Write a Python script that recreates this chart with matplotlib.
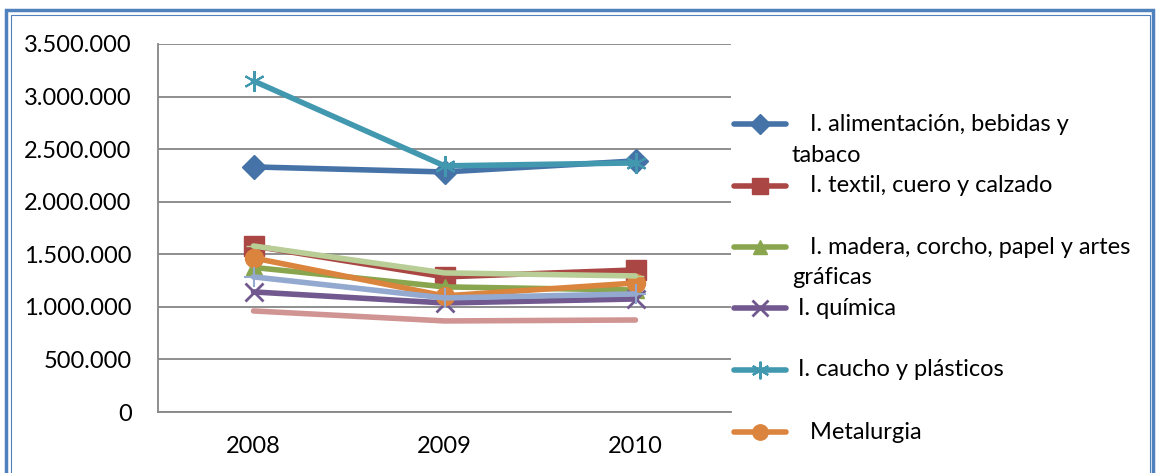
import matplotlib.pyplot as plt
from matplotlib.lines import Line2D
from matplotlib.patches import Rectangle
import numpy as np

# datos
anios = ['2008', '2009', '2010']
alimentacion = [2331000, 2283000, 2388000]
textil = [1579000, 1285000, 1351000]
madera = [1375000, 1190000, 1160000]
quimica = [1142000, 1037000, 1075000]
caucho = [3149000, 2341000, 2369000]
metalurgia = [1465000, 1104000, 1227000]
serie7 = [1285000, 1085000, 1123000]
serie8 = [1579000, 1323000, 1294000]
serie9 = [961000, 866000, 875000]

etiquetas = ['   I. alimentación, bebidas y\ntabaco',
             '   I. textil, cuero y calzado',
             '   I. madera, corcho, papel y artes\ngráficas',
             ' I. química',
             ' I. caucho y plásticos',
             '   Metalurgia']

plt.rcParams['font.family'] = ['Lato', 'DejaVu Sans']

W, H = 1156, 473
fig = plt.figure(figsize=(W / 100, H / 100), dpi=100)
ax = fig.add_axes([158 / W, 1 - 412 / H, (731 - 158) / W, (412 - 44) / H])

x = np.arange(len(anios))
# (valores, color, marcador, tamaño, ancho borde marcador)
series = [
    (alimentacion, '#4572A7', 'D', 12, 1),
    (textil, '#AA4643', 's', 14, 1),
    (madera, '#89A54E', '^', 12, 1),
    (quimica, '#71588F', 'x', 13, 2),
    (caucho, '#4198AF', (6, 2, 0), 15, 1.5),
    (metalurgia, '#DB843D', 'o', 13, 1),
    (serie7, '#93A9CF', '+', 14, 1.5),
    (serie8, '#B9CD96', '_', 12, 1),
    (serie9, '#D09493', 'None', 0, 0),
]
for vals, col, mk, ms, mew in series:
    ax.plot(x, vals, color=col, lw=4, marker=mk, markersize=ms,
            markeredgewidth=mew, markeredgecolor=col, markerfacecolor=col,
            solid_capstyle='round', solid_joinstyle='round', clip_on=False)

ax.set_xlim(-0.5, 2.5)
ax.set_ylim(0, 3500000)
ax.set_yticks(np.arange(0, 3500001, 500000))
ax.set_yticklabels([f'{int(v):,}'.replace(',', '.') for v in ax.get_yticks()])
ax.set_xticks(x)
ax.set_xticklabels(anios)
ax.tick_params(axis='y', length=0, pad=19, labelsize=17)
ax.tick_params(axis='x', length=0, pad=17, labelsize=17)
ax.grid(axis='y', color='#868686', lw=1.3)
ax.set_axisbelow(True)
for s in ['top', 'right']:
    ax.spines[s].set_visible(False)
for s in ['left', 'bottom']:
    ax.spines[s].set_color('#868686')
    ax.spines[s].set_linewidth(1.3)

# leyenda manual (solo las 6 primeras series se ven)
ys = [124, 186, 247, 308, 370, 432]
for (vals, col, mk, ms, mew), lab, yy in zip(series[:6], etiquetas, ys):
    fy = 1 - yy / H
    fig.add_artist(Line2D([734 / W, 786 / W], [fy, fy], color=col, lw=4,
                          solid_capstyle='round', transform=fig.transFigure))
    fig.add_artist(Line2D([760 / W], [fy], marker=mk, markersize=ms * 0.85,
                          color=col, markeredgewidth=mew, transform=fig.transFigure))
    lineas = lab.split('\n')
    for i, t in enumerate(lineas):
        fig.text(792 / W, 1 - (yy + 31 * i) / H, t, fontsize=17,
                 va='center', ha='left')

# borde doble azul
fig.add_artist(Rectangle((6 / W, -0.1), (1153 - 6) / W, 1.1 - 10.5 / H,
                         fill=False, ec='#4F81BD', lw=2.5, transform=fig.transFigure))
fig.add_artist(Rectangle((11 / W, -0.1), (1150 - 11) / W, 1.1 - 15 / H,
                         fill=False, ec='#4F81BD', lw=0.8, transform=fig.transFigure))

fig.savefig('out.png', dpi=100)
